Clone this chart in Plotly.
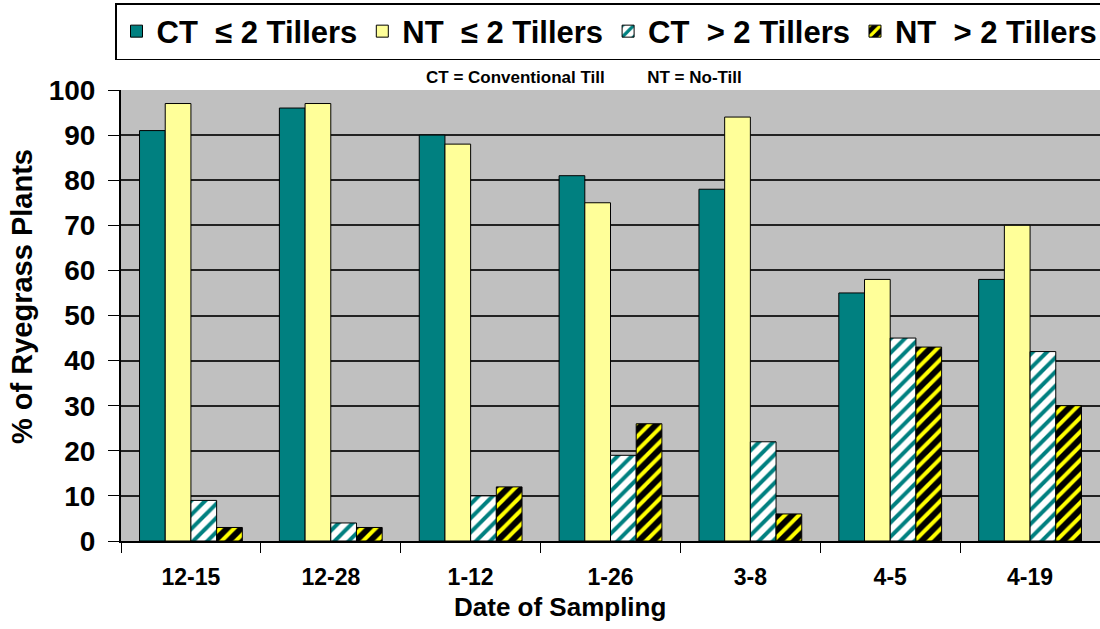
import plotly.graph_objects as go

dates = ["12-15", "12-28", "1-12", "1-26", "3-8", "4-5", "4-19"]
ct_le2 = [91, 96, 90, 81, 78, 55, 58]
nt_le2 = [97, 97, 88, 75, 94, 58, 70]
ct_gt2 = [9, 4, 10, 19, 22, 45, 42]
nt_gt2 = [3, 3, 12, 26, 6, 43, 30]
series_names = ["CT\u00a0\u00a0\u2264 2 Tillers", "NT\u00a0\u00a0\u2264 2 Tillers",
                "CT\u00a0\u00a0> 2 Tillers", "NT\u00a0\u00a0> 2 Tillers"]
y_ticks = list(range(0, 101, 10))

TEAL = "#008080"
YELLOW = "#FFFF99"
FONT = "Liberation Sans, Arial, sans-serif"

# plot area in pixels
L, R, T, B = 121, 1100, 90, 541
PW, PH = R - L, B - T


def px_x(x):
    return (x - L) / PW


def px_y(y):
    return (B - y) / PH


fig = go.Figure()
fig.add_trace(go.Bar(x=dates, y=ct_le2, name=series_names[0],
                     marker=dict(color=TEAL, line=dict(color="black", width=1))))
fig.add_trace(go.Bar(x=dates, y=nt_le2, name=series_names[1],
                     marker=dict(color=YELLOW, line=dict(color="black", width=1))))
fig.add_trace(go.Bar(x=dates, y=ct_gt2, name=series_names[2],
                     marker=dict(color="white", line=dict(color="black", width=1),
                                 pattern=dict(shape="/", fgcolor=TEAL, bgcolor="white",
                                              size=10, solidity=0.4, fillmode="replace"))))
fig.add_trace(go.Bar(x=dates, y=nt_gt2, name=series_names[3],
                     marker=dict(color="black", line=dict(color="black", width=1),
                                 pattern=dict(shape="/", fgcolor="#FFFF00", bgcolor="black",
                                              size=10, solidity=0.4, fillmode="replace"))))

fig.update_layout(
    width=1100, height=629,
    margin=dict(l=L, r=1100 - R, t=T, b=629 - B, autoexpand=False),
    paper_bgcolor="white", plot_bgcolor="#C0C0C0",
    barmode="group", bargap=0.265, bargroupgap=0,
    font=dict(family=FONT, color="black"),
    showlegend=True,
    legend=dict(orientation="h", x=px_x(115), xanchor="left", y=px_y(3), yanchor="top",
                bgcolor="white", bordercolor="black", borderwidth=1.5,
                font=dict(size=31, family=FONT, weight="bold"),
                itemwidth=30, tracegroupgap=0),
    xaxis=dict(showline=True, linecolor="black", linewidth=2,
               ticks="outside", tickson="boundaries", ticklen=10, tickcolor="black",
               tickfont=dict(size=23, weight="bold"), ticklabelstandoff=14),
    yaxis=dict(range=[0, 100], tickvals=y_ticks, showline=True, linecolor="black", linewidth=2,
               ticks="outside", ticklen=11, tickcolor="black",
               showgrid=True, gridcolor="#222222", gridwidth=1.5, zeroline=False,
               tickfont=dict(size=28, weight="bold"), ticklabelstandoff=7),
)

fig.add_annotation(text="Date of Sampling", xref="paper", yref="paper",
                   x=px_x(560), y=px_y(607), xanchor="center", yanchor="middle",
                   showarrow=False, font=dict(size=26, weight="bold"))
fig.add_annotation(text="% of Ryegrass Plants", xref="paper", yref="paper", textangle=-90,
                   x=px_x(22), y=px_y(297), xanchor="center", yanchor="middle",
                   showarrow=False, font=dict(size=29, weight="bold"))
fig.add_annotation(text="CT = Conventional Till" + "\u00a0" * 9 + "NT = No-Till",
                   xref="paper", yref="paper", x=px_x(584), y=px_y(77),
                   xanchor="center", yanchor="middle",
                   showarrow=False, font=dict(size=17, weight="bold"))

fig.write_html("out.html", config={"displayModeBar": False},
               post_script="document.body.style.margin='0';")
